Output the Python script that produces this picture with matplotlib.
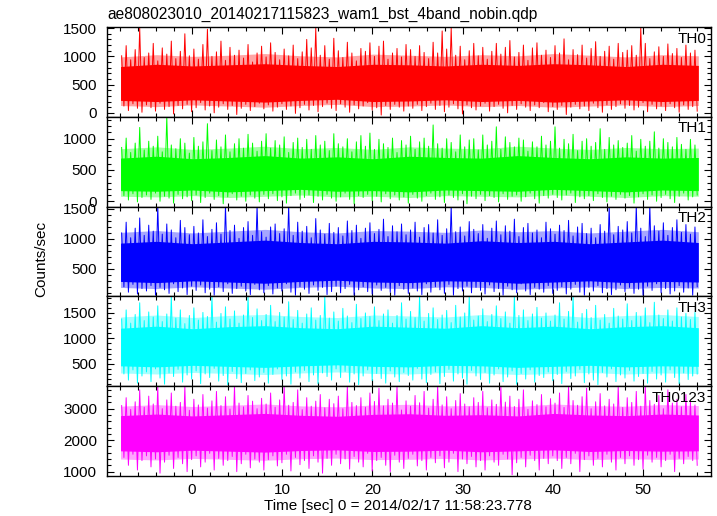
import numpy as np
import matplotlib
matplotlib.use("Agg")
import matplotlib.pyplot as plt
from matplotlib.ticker import MultipleLocator

plt.rcParams['font.family'] = ['Liberation Sans', 'DejaVu Sans']

title = "ae808023010_20140217115823_wam1_bst_4band_nobin.qdp"
xlabel = "Time [sec] 0 = 2014/02/17 11:58:23.778"
ylabel = "Counts/sec"
bands = ["TH0", "TH1", "TH2", "TH3", "TH0123"]
colors = ["#ff0000", "#00ff00", "#0000ff", "#00ffff", "#ff00ff"]

t_start = -7.9     # start of the light curve [sec]
t_bin = 0.5        # spike envelope: one max / min per half second
core_step = 4.0    # dense band / fringe: one value every 4 sec

# ---- TH0 ----
th0_peak = [1010, 1190, 940, 1120, 1500, 980, 1060, 1230, 920, 1150, 1040, 1270, 960, 1090, 1400, 1010,
            1130, 950, 1210, 1480, 1000, 1080, 1270, 930, 1160, 1020, 1110, 970, 1210, 900, 1060, 1180,
            990, 1240, 1070, 940, 1130, 1010, 1200, 960, 1080, 1300, 1150, 1500, 1020, 1190, 950, 1320,
            1100, 980, 1250, 1060, 920, 1140, 1090, 1240, 1000, 1180, 1270, 950, 1060, 1140, 990, 1210,
            1120, 1000, 1190, 1070, 960, 1250, 1060, 1450, 1130, 1500, 1020, 1180, 940, 1100, 1230, 1010,
            1160, 950, 1090, 1230, 1040, 1160, 1280, 990, 1070, 1200, 930, 1150, 1240, 1020, 1110, 980,
            1190, 1060, 1310, 940, 1120, 1030, 1200, 970, 1140, 1260, 1000, 1090, 1180, 950, 1230, 1070,
            1110, 1190, 1020, 1500, 1230, 960, 1080, 1170, 1000, 1220, 1050, 1140, 980, 1200, 1060, 1110]
th0_dip = [120, 40, 160, 80, 10, 140, 90, 30, 170, 60, 110, -20, 130, 70, 150, 20,
           90, 180, 50, 120, 0, 100, 160, 60, 130, -30, 80, 150, 40, 110, 170, 70,
           140, 30, 100, 160, 60, 120, -10, 90, 150, 50, 130, 20, 110, 170, 80, 40,
           160, 100, 10, 140, 70, 120, 180, 50, 90, -40, 130, 60, 150, 100, 30, 120,
           80, 150, 40, 110, 170, 60, 130, 20, 100, 160, 70, -20, 140, 90, 50, 120,
           170, 30, 110, 150, 80, 0, 130, 60, 160, 100, 40, 140, 90, 180, 20, 110,
           60, 130, -30, 100, 150, 70, 120, 40, 170, 90, 10, 140, 60, 110, 160, 80,
           130, 50, 100, 180, 20, 150, 70, 120, 40, 160, 90, 10, 140, 60, 110, 30]
th0_core_lo = [220, 200, 230, 210, 190, 220, 240, 200, 210, 230, 200, 220, 190, 210, 230, 200, 220]
th0_core_hi = [820, 860, 830, 850, 870, 840, 820, 860, 850, 830, 860, 840, 870, 850, 820, 860, 840]
th0_fringe_lo = [130, 110, 140, 120, 100, 130, 150, 110, 120, 140, 110, 130, 100, 120, 140, 110, 130]
th0_fringe_hi = [990, 1030, 1000, 1020, 1050, 1010, 990, 1040, 1020, 1000, 1030, 1010, 1050, 1020, 990, 1030, 1010]

# ---- TH1 ----
th1_peak = [860, 1010, 780, 930, 1180, 820, 960, 880, 1040, 790, 1350, 900, 840, 1000, 930, 770,
            1020, 880, 950, 1240, 810, 980, 870, 1060, 790, 920, 1000, 850, 1070, 930, 800, 960,
            1080, 850, 970, 900, 1030, 780, 940, 1010, 860, 990, 830, 1050, 900, 960, 810, 1080,
            920, 870, 1000, 790, 950, 1050, 880, 1090, 830, 990, 920, 860, 1010, 780, 970, 900,
            1040, 830, 950, 1010, 880, 1220, 920, 850, 1000, 940, 790, 1060, 870, 980, 1000, 820,
            1060, 900, 960, 1190, 830, 1030, 940, 870, 1010, 980, 800, 950, 870, 1040, 900, 960,
            1190, 850, 990, 920, 1070, 810, 960, 1000, 880, 940, 1160, 830, 1020, 900, 970, 860,
            930, 1050, 800, 990, 880, 960, 1110, 850, 1000, 940, 870, 1020, 910, 830, 990, 900]
th1_dip = [90, 20, 120, -10, 60, 100, 30, 130, 0, 80, 50, -30, 110, 40, 70, 10,
           100, -20, 60, 130, 30, 90, -40, 70, 120, 20, 80, 0, 100, 50, -10, 110,
           40, 120, 10, 70, -30, 90, 130, 30, 60, 100, -20, 80, 20, 110, 50, 0,
           70, 130, 30, -40, 90, 60, 110, 10, 80, -10, 120, 40, 100, 20, 70, -30,
           110, 50, 0, 90, 130, 30, 70, -20, 100, 60, 20, 120, -40, 80, 40, 110,
           10, 90, 60, -10, 120, 30, 80, 100, 0, 70, 130, 40, -30, 90, 50, 110,
           60, 20, 100, 130, -20, 70, 40, 90, 10, 120, 60, -10, 80, 30, 110, 50,
           90, -30, 70, 120, 30, 100, 0, 60, 110, 40, -20, 80, 130, 20, 70, 100]
th1_core_lo = [170, 160, 180, 150, 170, 190, 160, 170, 150, 180, 170, 160, 190, 170, 150, 180, 170]
th1_core_hi = [690, 720, 680, 700, 730, 690, 710, 680, 720, 700, 690, 730, 700, 680, 710, 690, 700]
th1_fringe_lo = [80, 70, 90, 60, 80, 100, 70, 80, 60, 90, 80, 70, 100, 80, 60, 90, 80]
th1_fringe_hi = [840, 870, 830, 850, 880, 840, 860, 830, 870, 850, 840, 880, 850, 830, 860, 840, 850]

# ---- TH2 ----
th2_peak = [1100, 1280, 1020, 1180, 1350, 1060, 1230, 1130, 1560, 1080, 1250, 1150, 1020, 1310, 1190, 1070,
            1210, 1100, 1320, 1040, 1160, 1270, 1080, 1560, 1140, 1230, 1010, 1190, 1290, 1060, 1560, 1120,
            1030, 1200, 1250, 1090, 1170, 1560, 1060, 1280, 1130, 1210, 1020, 1340, 1150, 1080, 1260, 1110,
            1190, 1050, 1300, 1140, 1230, 1010, 1180, 1270, 1090, 1160, 1330, 1040, 1220, 1120, 1250, 1070,
            1150, 1280, 1030, 1190, 1240, 1100, 1320, 1060, 1170, 1560, 1120, 1200, 1050, 1290, 1160, 1090,
            1240, 1010, 1180, 1300, 1070, 1220, 1130, 1330, 1040, 1190, 1260, 1100, 1150, 1020, 1280, 1170,
            1080, 1230, 1140, 1310, 1050, 1200, 1260, 1090, 1180, 1020, 1240, 1130, 1560, 1070, 1210, 1150,
            1290, 1100, 1560, 1180, 1040, 1560, 1220, 1130, 1270, 1060, 1190, 1320, 1110, 1240, 1080, 1200]
th2_dip = [200, 110, 240, 80, 170, 130, 220, 60, 190, 150, 90, 250, 120, 180, 70, 210,
           140, 230, 100, 160, 60, 200, 120, 250, 90, 170, 210, 130, 70, 240, 150, 100,
           220, 80, 180, 130, 250, 110, 60, 200, 160, 90, 230, 140, 190, 70, 120, 210,
           100, 170, 240, 60, 150, 200, 120, 80, 230, 140, 190, 110, 60, 220, 160, 90,
           180, 130, 70, 250, 110, 200, 150, 90, 240, 60, 170, 130, 210, 100, 190, 140,
           80, 230, 120, 170, 60, 210, 150, 100, 250, 130, 70, 190, 160, 110, 220, 90,
           140, 200, 80, 160, 240, 110, 60, 190, 130, 220, 100, 170, 70, 150, 230, 120,
           190, 90, 160, 60, 210, 140, 250, 100, 170, 80, 130, 220, 110, 180, 60, 200]
th2_core_lo = [290, 270, 300, 280, 260, 290, 310, 280, 270, 300, 290, 260, 280, 300, 270, 290, 280]
th2_core_hi = [930, 960, 920, 950, 980, 940, 920, 960, 950, 930, 970, 940, 960, 920, 950, 980, 940]
th2_fringe_lo = [190, 170, 200, 180, 160, 190, 210, 180, 170, 200, 190, 160, 180, 200, 170, 190, 180]
th2_fringe_hi = [1110, 1140, 1100, 1130, 1160, 1120, 1100, 1140, 1130, 1110, 1150, 1120, 1140, 1100, 1130, 1160, 1120]

# ---- TH3 ----
th3_peak = [1380, 1560, 1300, 1470, 1700, 1350, 1520, 1420, 1640, 1330, 1480, 1830, 1400, 1560, 1290, 1450,
            1600, 1360, 1510, 1430, 1830, 1320, 1490, 1620, 1380, 1540, 1300, 1460, 1830, 1410, 1580, 1350,
            1470, 1650, 1330, 1510, 1420, 1720, 1370, 1550, 1300, 1480, 1600, 1360, 1450, 1830, 1400, 1520,
            1340, 1590, 1440, 1310, 1670, 1390, 1500, 1430, 1620, 1350, 1480, 1560, 1300, 1450, 1700, 1380,
            1530, 1410, 1830, 1340, 1490, 1600, 1370, 1460, 1550, 1310, 1650, 1420, 1500, 1830, 1360, 1440,
            1580, 1330, 1470, 1640, 1390, 1520, 1300, 1830, 1450, 1560, 1350, 1480, 1610, 1400, 1500, 1340,
            1460, 1700, 1380, 1530, 1830, 1320, 1490, 1570, 1410, 1650, 1360, 1470, 1300, 1590, 1440, 1380,
            1680, 1350, 1510, 1430, 1600, 1310, 1710, 1460, 1390, 1560, 1340, 1600, 1420, 1490, 1370, 1510]
th3_dip = [300, 180, 380, 120, 260, 340, 150, 400, 220, 100, 320, 250, 390, 140, 280, 200,
           360, 110, 300, 230, 410, 160, 270, 90, 350, 210, 130, 310, 380, 170, 240, 330,
           120, 290, 400, 190, 260, 100, 340, 220, 370, 150, 280, 110, 320, 250, 180, 400,
           230, 350, 140, 300, 90, 260, 380, 170, 310, 210, 120, 360, 240, 150, 330, 270,
           180, 410, 200, 130, 290, 340, 110, 250, 390, 160, 300, 220, 100, 370, 260, 190,
           330, 120, 280, 400, 150, 240, 360, 100, 310, 200, 380, 140, 270, 230, 340, 170,
           290, 110, 350, 210, 260, 390, 130, 300, 180, 90, 330, 240, 400, 150, 280, 220,
           370, 160, 250, 310, 120, 350, 200, 280, 140, 380, 230, 110, 320, 190, 260, 300]
th3_core_lo = [460, 440, 470, 450, 430, 460, 480, 450, 440, 470, 460, 430, 450, 470, 440, 460, 450]
th3_core_hi = [1200, 1240, 1190, 1230, 1250, 1210, 1190, 1240, 1220, 1200, 1250, 1210, 1240, 1190, 1230, 1250, 1210]
th3_fringe_lo = [320, 300, 330, 310, 290, 320, 340, 310, 300, 330, 320, 290, 310, 330, 300, 320, 310]
th3_fringe_hi = [1420, 1460, 1410, 1450, 1470, 1430, 1410, 1460, 1440, 1420, 1470, 1430, 1460, 1410, 1450, 1470, 1430]

# ---- TH0123 ----
th0123_peak = [3100, 3350, 2980, 3220, 3600, 3050, 3400, 3150, 3720, 3000, 3280, 3500, 3080, 3200, 3720, 2950,
               3300, 3120, 3450, 3020, 3250, 3550, 3100, 3380, 2990, 3720, 3180, 3060, 3420, 3240, 3000, 3330,
               3150, 3500, 3050, 3280, 3720, 3110, 3200, 3600, 2970, 3350, 3080, 3240, 3450, 3030, 3300, 3160,
               3400, 3000, 3720, 3200, 3100, 3350, 3050, 3500, 3230, 3650, 3090, 3300, 3180, 3720, 2960, 3250,
               3080, 3420, 3190, 3550, 3020, 3300, 3720, 3120, 3380, 3000, 3260, 3480, 3150, 3060, 3350, 3200,
               3550, 3030, 3280, 3140, 3720, 3210, 3400, 3070, 3300, 3600, 2980, 3250, 3130, 3450, 3060, 3320,
               3180, 3500, 3040, 3720, 3260, 3110, 3380, 3650, 3000, 3220, 3480, 3090, 3300, 3150, 3720, 3040,
               3350, 3200, 3550, 3080, 3720, 3260, 3140, 3420, 3000, 3600, 3180, 3300, 3060, 3450, 3210, 3120]
th0123_dip = [1450, 1200, 1550, 1050, 1350, 1500, 1150, 1400, 950, 1300, 1520, 1100, 1450, 1250, 1000, 1380,
              1500, 1150, 1300, 1580, 1050, 1420, 1200, 1350, 1480, 1000, 1250, 1550, 1120, 1400, 1300, 1050,
              1380, 1500, 1180, 1280, 1550, 1020, 1450, 1220, 1350, 1100, 1500, 1300, 950, 1420, 1200, 1550,
              1250, 1400, 1080, 1480, 1300, 1150, 1580, 1020, 1350, 1450, 1200, 1000, 1520, 1300, 1100, 1420,
              1550, 1180, 1350, 1050, 1450, 1280, 1500, 1120, 1300, 1580, 1000, 1400, 1250, 1480, 1150, 1350,
              1050, 1500, 1300, 1200, 1550, 1400, 900, 1280, 1450, 1150, 1520, 1350, 1050, 1420, 1250, 1500,
              1350, 1100, 1450, 1250, 1580, 1000, 1380, 1500, 1200, 1420, 1150, 1550, 1300, 1050, 1450, 1250,
              1500, 1200, 1380, 1080, 1520, 1300, 1450, 1150, 1350, 1550, 1000, 1420, 1250, 1480, 1350, 1200]
th0123_core_lo = [1660, 1630, 1680, 1650, 1620, 1670, 1690, 1640, 1650, 1680, 1630, 1660, 1690, 1640, 1670, 1650, 1660]
th0123_core_hi = [2780, 2830, 2770, 2810, 2850, 2790, 2760, 2820, 2840, 2790, 2810, 2770, 2850, 2800, 2780, 2830, 2800]
th0123_fringe_lo = [1400, 1370, 1420, 1390, 1360, 1410, 1430, 1380, 1390, 1420, 1370, 1400, 1430, 1380, 1410, 1390, 1400]
th0123_fringe_hi = [3080, 3130, 3070, 3110, 3150, 3090, 3060, 3120, 3140, 3090, 3110, 3070, 3150, 3100, 3080, 3130, 3100]

peaks = [th0_peak, th1_peak, th2_peak, th3_peak, th0123_peak]
dips = [th0_dip, th1_dip, th2_dip, th3_dip, th0123_dip]
cores_lo = [th0_core_lo, th1_core_lo, th2_core_lo, th3_core_lo, th0123_core_lo]
cores_hi = [th0_core_hi, th1_core_hi, th2_core_hi, th3_core_hi, th0123_core_hi]
fringes_lo = [th0_fringe_lo, th1_fringe_lo, th2_fringe_lo, th3_fringe_lo, th0123_fringe_lo]
fringes_hi = [th0_fringe_hi, th1_fringe_hi, th2_fringe_hi, th3_fringe_hi, th0123_fringe_hi]

ylims = [(-70, 1520), (-85, 1350), (40, 1540), (60, 1825), (860, 3715)]
ymajor = [500, 500, 500, 500, 1000]
yminor = [100, 100, 100, 100, 200]

t_bins = t_start + t_bin * np.arange(len(th0_peak))
t_core = t_start + core_step * np.arange(len(th0_core_lo))

fig, axes = plt.subplots(5, 1, sharex=True, figsize=(7.17, 5.16), dpi=100)
fig.subplots_adjust(left=0.1492, right=0.9916, top=0.9477, bottom=0.0775, hspace=0)

for i, ax in enumerate(axes):
    # zigzag through max / min of each half second, on top of the dense band
    x = np.ravel(np.column_stack([t_bins + 0.25 * t_bin, t_bins + 0.75 * t_bin]))
    y = np.ravel(np.column_stack([peaks[i], dips[i]]))
    ax.fill_between(t_core, fringes_lo[i], fringes_hi[i], color=colors[i], alpha=0.35, lw=0)
    ax.fill_between(t_core, cores_lo[i], cores_hi[i], color=colors[i], lw=0)
    ax.plot(x, y, color=colors[i], lw=0.7)
    ax.set_ylim(*ylims[i])
    ax.yaxis.set_major_locator(MultipleLocator(ymajor[i]))
    ax.yaxis.set_minor_locator(MultipleLocator(yminor[i]))
    ax.text(0.992, 0.87, bands[i], transform=ax.transAxes, ha='right', va='center', fontsize=11)
    ax.tick_params(which='both', direction='in', top=True, right=True, labelsize=11)
    ax.tick_params(which='major', length=5, width=0.8)
    ax.tick_params(which='minor', length=3, width=0.8)
    ax.tick_params(axis='y', pad=7)
    ax.tick_params(axis='x', pad=5)
    for sp in ax.spines.values():
        sp.set_linewidth(1.0)

axes[-1].set_xlim(-9.4, 57.5)
axes[-1].xaxis.set_major_locator(MultipleLocator(10))
axes[-1].xaxis.set_minor_locator(MultipleLocator(2))

fig.text(0.1492, 1 - 19 / 516, title, ha='left', va='baseline', fontsize=11.2)
fig.text(398 / 717, 1 - 506 / 516, xlabel, ha='center', va='center', fontsize=11)
fig.text(41 / 717, 1 - 259 / 516, ylabel, ha='center', va='center', rotation=90, fontsize=11)

fig.savefig("out.png", dpi=100)
